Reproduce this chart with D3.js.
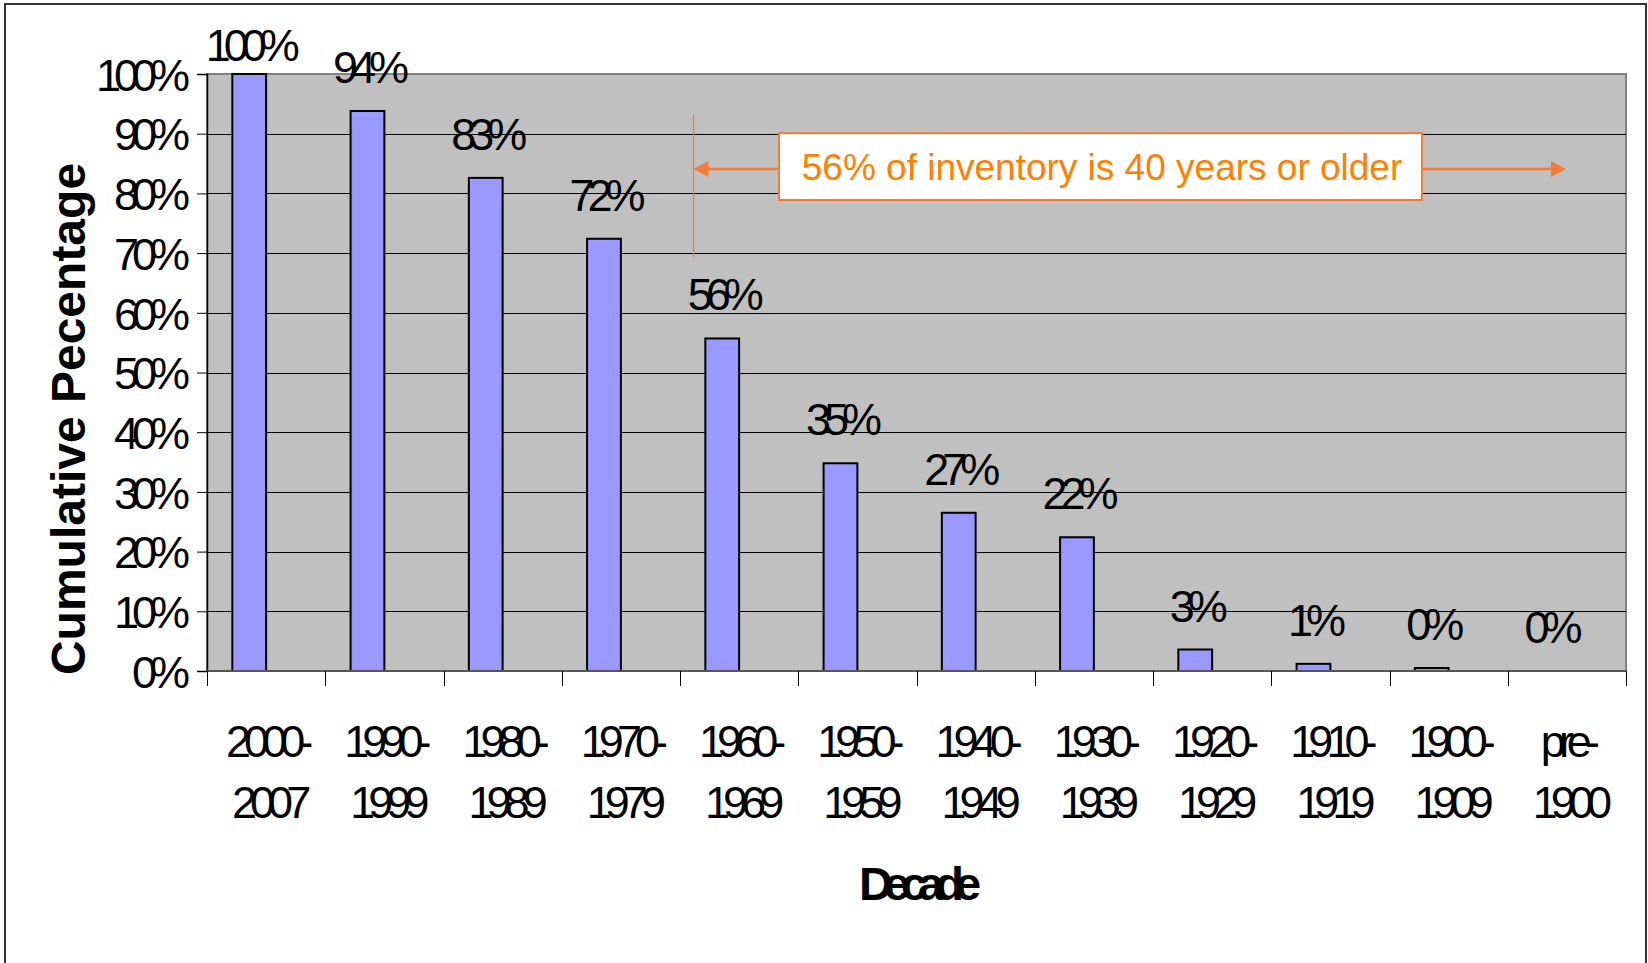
<!DOCTYPE html>
<html>
<head>
<meta charset="utf-8">
<script src="https://cdn.jsdelivr.net/npm/d3@7"></script>
<style>
  html, body { margin: 0; padding: 0; background: #fff; }
  svg { display: block; }
  text { font-family: "Liberation Sans", Arial, sans-serif; }
</style>
</head>
<body>
<svg id="chart" width="1648" height="963"></svg>
<script>
// ---- data ----
const categories = ["2000-2007","1990-1999","1980-1989","1970-1979","1960-1969","1950-1959",
                    "1940-1949","1930-1939","1920-1929","1910-1919","1900-1909","pre-1900"];
const tickLine1 = ["2000-","1990-","1980-","1970-","1960-","1950-","1940-","1930-","1920-","1910-","1900-","pre-"];
const tickLine2 = ["2007","1999","1989","1979","1969","1959","1949","1939","1929","1919","1909","1900"];
const cumulative = [1.00, 0.938, 0.826, 0.724, 0.557, 0.348, 0.265, 0.224, 0.036, 0.012, 0.005, 0.0];
const valueLabels = ["100%","94%","83%","72%","56%","35%","27%","22%","3%","1%","0%","0%"];
const seriesSlots = ["Cumulative", "(empty)"];   // Excel clustered slots; only the first holds data
const yTicks = [0,0.1,0.2,0.3,0.4,0.5,0.6,0.7,0.8,0.9,1.0];
const yTitle = "Cumulative Pecentage";
const xTitle = "Decade";
const noteText = "56% of inventory is 40 years or older";

// ---- layout ----
const svg = d3.select("#chart");
const plot = {left: 207, top: 74, right: 1626, bottom: 671};

const x = d3.scaleBand().domain(categories).range([plot.left, plot.right]).padding(0);
const x1 = d3.scaleBand().domain(seriesSlots).range([0, x.bandwidth()]).paddingInner(0).paddingOuter(0.75);
const y = d3.scaleLinear().domain([0, 1]).range([plot.bottom, plot.top]);

// outer frame
svg.append("rect").attr("x", 5).attr("y", 4).attr("width", 1641).attr("height", 975)
  .attr("fill", "#fff").attr("stroke", "#333").attr("stroke-width", 2);

// plot background
svg.append("rect").attr("x", plot.left).attr("y", plot.top)
  .attr("width", plot.right - plot.left).attr("height", plot.bottom - plot.top)
  .attr("fill", "#C0C0C0").attr("stroke", "#808080").attr("stroke-width", 2);

// gridlines
svg.append("g").selectAll("line").data(yTicks.filter(d => d > 0 && d < 1)).join("line")
  .attr("x1", plot.left).attr("x2", plot.right)
  .attr("y1", d => Math.round(y(d)) + 0.5).attr("y2", d => Math.round(y(d)) + 0.5)
  .attr("stroke", "#000").attr("stroke-width", 1);

// bars
svg.append("g").selectAll("rect").data(categories).join("rect")
  .attr("x", (d) => x(d) + x1(seriesSlots[0]))
  .attr("width", x1.bandwidth())
  .attr("y", (d, i) => y(cumulative[i]))
  .attr("height", (d, i) => y(0) - y(cumulative[i]))
  .attr("fill", "#9999FF")
  .attr("stroke", "#000").attr("stroke-width", (d, i) => cumulative[i] > 0 ? 2 : 0);

// data labels
svg.append("g").selectAll("text").data(categories).join("text")
  .attr("x", (d) => x(d) + x1(seriesSlots[0]) + x1.bandwidth() / 2)
  .attr("y", (d, i) => Math.max(y(cumulative[i]) - 28, 61))
  .attr("text-anchor", "middle")
  .attr("font-size", 45).attr("letter-spacing", "-7px")
  .attr("fill", "#000")
  .text((d, i) => valueLabels[i]);

// y axis
const yAxis = d3.axisLeft(y).tickValues(yTicks).tickFormat(d3.format(".0%")).tickSize(10).tickPadding(14);
const gy = svg.append("g").attr("transform", `translate(${plot.left},0)`).call(yAxis);
gy.select(".domain").attr("stroke", "#000").attr("stroke-width", 1.5);
gy.selectAll(".tick line").attr("stroke", "#000");
gy.selectAll(".tick text").attr("font-size", 45).attr("letter-spacing", "-7px")
  .attr("font-family", "'Liberation Sans', Arial, sans-serif").attr("fill", "#000")
  .attr("dy", "0.36em");

// x axis line + boundary ticks
svg.append("line").attr("x1", plot.left).attr("x2", plot.right)
  .attr("y1", plot.bottom).attr("y2", plot.bottom).attr("stroke", "#555").attr("stroke-width", 2);
const bounds = categories.map(c => x(c)).concat([plot.right]);
svg.append("g").selectAll("line").data(bounds).join("line")
  .attr("x1", d => Math.round(d) + 0.5).attr("x2", d => Math.round(d) + 0.5)
  .attr("y1", plot.bottom).attr("y2", plot.bottom + 15)
  .attr("stroke", "#000").attr("stroke-width", 1);

// x tick labels (two lines)
const xl = svg.append("g").selectAll("text").data(categories).join("text")
  .attr("text-anchor", "middle").attr("font-size", 45).attr("letter-spacing", "-7px").attr("fill", "#000");
xl.append("tspan").attr("x", d => x(d) + x.bandwidth() / 2).attr("y", 757).text((d, i) => tickLine1[i]);
xl.append("tspan").attr("x", d => x(d) + x.bandwidth() / 2 + 2).attr("y", 818).text((d, i) => tickLine2[i]);

// axis titles
svg.append("text").attr("x", (plot.left + plot.right) / 2 - 1).attr("y", 900)
  .attr("text-anchor", "middle").attr("font-size", 47).attr("font-weight", "bold")
  .attr("letter-spacing", "-9px").text(xTitle);
svg.append("text").attr("transform", "translate(85,419) rotate(-90)")
  .attr("text-anchor", "middle").attr("font-size", 48).attr("font-weight", "bold")
  .text(yTitle);

// annotation
const orange = "#F47B3A";
const noteX0 = 693.5, noteX1 = 1566;
const noteY = y(0.841);
svg.append("line").attr("x1", noteX0).attr("x2", noteX0).attr("y1", y(0.931)).attr("y2", y(0.693))
  .attr("stroke", orange).attr("stroke-width", 1.2);
svg.append("line").attr("x1", noteX0 + 8).attr("x2", noteX1 - 8).attr("y1", noteY).attr("y2", noteY)
  .attr("stroke", orange).attr("stroke-width", 2.5);
svg.append("path").attr("d", `M${noteX0},${noteY} l15,-8 l0,16 z`).attr("fill", orange);
svg.append("path").attr("d", `M${noteX1},${noteY} l-15,-8 l0,16 z`).attr("fill", orange);
svg.append("rect").attr("x", 779).attr("y", y(0.901)).attr("width", 643).attr("height", y(0.789) - y(0.901))
  .attr("fill", "#fff").attr("stroke", orange).attr("stroke-width", 2);
svg.append("text").attr("x", 1102).attr("y", 180).attr("text-anchor", "middle")
  .attr("font-size", 37).attr("fill", "#FF7F00").text(noteText);
</script>
</body>
</html>
